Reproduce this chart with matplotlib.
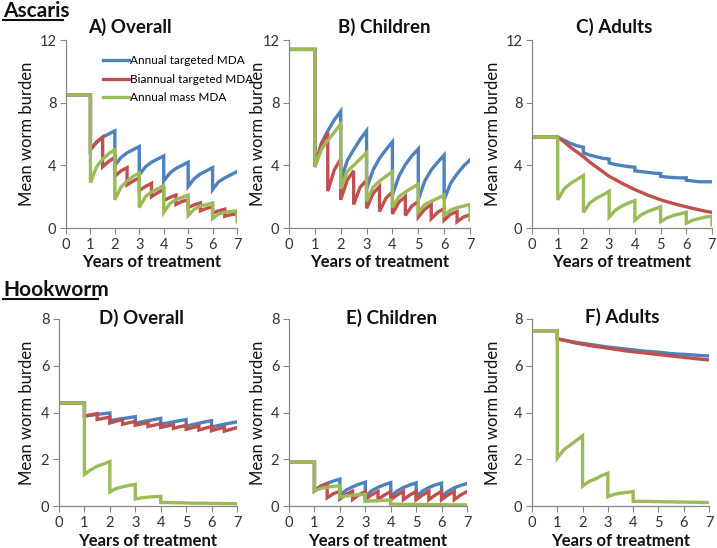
import matplotlib
matplotlib.use("Agg")
import matplotlib.pyplot as plt

plt.rcParams['font.family'] = ['Lato', 'DejaVu Sans']

# treatment starts at year 1; each segment lists values at quarter-year steps
years = [0, 1, 2, 3, 4, 5, 6, 7]
series_names = ["Annual targeted MDA", "Biannual targeted MDA", "Annual mass MDA"]
colors = ["#4F81BD", "#C0504D", "#9BBB59"]

# ---- Ascaris ----
a_pre = 8.5
a_annual = [[5.0, 5.45, 5.8, 6.0, 6.2], [4.0, 4.5, 4.8, 5.0, 5.2], [3.4, 3.9, 4.2, 4.4, 4.6],
            [3.0, 3.5, 3.8, 4.0, 4.2], [2.65, 3.15, 3.45, 3.65, 3.85], [2.45, 2.95, 3.2, 3.4, 3.6]]
a_biannual = [[5.0, 5.5, 5.8], [3.9, 4.25, 4.5], [3.3, 3.65, 3.85], [2.75, 3.0, 3.2],
              [2.4, 2.65, 2.85], [2.0, 2.25, 2.45], [1.75, 1.95, 2.1], [1.5, 1.7, 1.8],
              [1.3, 1.48, 1.6], [1.1, 1.25, 1.35], [0.95, 1.1, 1.2], [0.75, 0.85, 0.9]]
a_mass = [[2.9, 3.9, 4.4, 4.75, 5.0], [1.8, 2.6, 3.0, 3.3, 3.5], [1.3, 2.0, 2.3, 2.5, 2.7],
          [1.0, 1.55, 1.8, 1.95, 2.1], [0.8, 1.2, 1.4, 1.5, 1.6], [0.6, 0.9, 1.0, 1.05, 1.1]]
a_mass_end = 0.4

b_pre = 11.4
b_annual = [[3.9, 5.4, 6.2, 6.9, 7.45], [3.0, 4.3, 5.0, 5.65, 6.2], [2.5, 3.7, 4.45, 5.0, 5.5],
            [2.1, 3.3, 4.05, 4.6, 5.05], [1.8, 3.0, 3.7, 4.2, 4.65], [1.8, 2.85, 3.45, 3.95, 4.35]]
b_biannual = [[3.9, 5.3, 6.1], [2.35, 3.7, 4.4], [1.8, 3.05, 3.65], [1.5, 2.6, 3.05],
              [1.25, 2.2, 2.65], [1.05, 1.9, 2.3], [0.9, 1.65, 2.0], [0.8, 1.4, 1.7],
              [0.7, 1.2, 1.5], [0.6, 1.0, 1.25], [0.5, 0.88, 1.05], [0.4, 0.7, 0.85]]
b_mass = [[3.9, 5.0, 5.6, 6.1, 6.65], [2.5, 3.6, 4.0, 4.4, 4.8], [1.7, 2.6, 3.0, 3.3, 3.6],
          [1.3, 2.0, 2.3, 2.55, 2.8], [1.0, 1.5, 1.7, 1.9, 2.1], [0.8, 1.15, 1.3, 1.4, 1.5]]
b_mass_end = 0.5

c_pre = 5.8
c_annual = [[5.8, 5.6, 5.4, 5.25, 5.15], [4.8, 4.65, 4.55, 4.45, 4.4], [4.15, 4.05, 3.98, 3.92, 3.88],
            [3.65, 3.6, 3.55, 3.5, 3.48], [3.3, 3.25, 3.22, 3.2, 3.2], [3.05, 3.0, 2.95, 2.95, 2.95]]
c_biannual = [[5.8, 5.5, 5.15], [5.15, 4.85, 4.55], [4.55, 4.2, 3.9], [3.9, 3.6, 3.3],
              [3.3, 3.08, 2.85], [2.85, 2.65, 2.45], [2.45, 2.28, 2.1], [2.1, 1.95, 1.8],
              [1.8, 1.68, 1.56], [1.56, 1.45, 1.35], [1.35, 1.25, 1.16], [1.16, 1.07, 1.0]]
c_mass = [[1.8, 2.5, 2.85, 3.1, 3.35], [1.0, 1.6, 1.9, 2.1, 2.35], [0.7, 1.15, 1.4, 1.6, 1.75],
          [0.5, 0.85, 1.05, 1.2, 1.35], [0.4, 0.65, 0.8, 0.9, 1.0], [0.3, 0.5, 0.6, 0.7, 0.75]]
c_mass_end = 0.2

# ---- Hookworm ----
d_pre = 4.4
d_annual = [[3.85, 3.88, 3.92, 3.95, 3.98], [3.65, 3.7, 3.74, 3.78, 3.82], [3.55, 3.6, 3.65, 3.7, 3.75],
            [3.5, 3.55, 3.6, 3.65, 3.7], [3.42, 3.48, 3.54, 3.6, 3.65], [3.38, 3.44, 3.5, 3.55, 3.6]]
d_biannual = [[3.85, 3.9, 3.95], [3.7, 3.75, 3.8], [3.55, 3.63, 3.7], [3.5, 3.56, 3.62],
              [3.45, 3.51, 3.57], [3.4, 3.46, 3.52], [3.36, 3.42, 3.48], [3.32, 3.39, 3.45],
              [3.28, 3.35, 3.42], [3.25, 3.33, 3.4], [3.22, 3.3, 3.37], [3.2, 3.28, 3.35]]
d_mass = [[1.35, 1.55, 1.7, 1.8, 1.9], [0.6, 0.75, 0.82, 0.88, 0.93], [0.3, 0.35, 0.38, 0.4, 0.41],
          [0.15, 0.15, 0.14, 0.14, 0.13], [0.13, 0.12, 0.12, 0.12, 0.11], [0.11, 0.11, 0.1, 0.1, 0.1]]
d_mass_end = None

e_pre = 1.87
e_annual = [[0.65, 0.85, 0.97, 1.07, 1.15], [0.45, 0.68, 0.82, 0.93, 1.02], [0.42, 0.65, 0.8, 0.91, 1.0],
            [0.4, 0.64, 0.79, 0.9, 0.99], [0.4, 0.64, 0.79, 0.9, 0.98], [0.4, 0.63, 0.78, 0.88, 0.96]]
e_biannual = [[0.65, 0.85, 0.95], [0.35, 0.53, 0.63], [0.3, 0.5, 0.63], [0.28, 0.48, 0.62],
              [0.28, 0.48, 0.62], [0.27, 0.47, 0.62], [0.27, 0.47, 0.62], [0.27, 0.47, 0.62],
              [0.27, 0.47, 0.62], [0.27, 0.47, 0.62], [0.27, 0.47, 0.62], [0.27, 0.47, 0.62]]
e_mass = [[0.65, 0.75, 0.8, 0.84, 0.87], [0.38, 0.43, 0.46, 0.48, 0.5], [0.2, 0.22, 0.23, 0.24, 0.25],
          [0.08, 0.08, 0.07, 0.07, 0.07], [0.07, 0.06, 0.06, 0.06, 0.06], [0.06, 0.05, 0.05, 0.05, 0.05]]
e_mass_end = None

f_pre = 7.5
f_annual = [[7.15, 7.1, 7.05, 7.0, 6.96], [6.96, 6.92, 6.88, 6.84, 6.8], [6.8, 6.77, 6.74, 6.71, 6.68],
            [6.68, 6.65, 6.62, 6.6, 6.58], [6.58, 6.55, 6.52, 6.5, 6.49], [6.49, 6.47, 6.45, 6.43, 6.42]]
f_biannual = [[7.15, 7.09, 7.03], [7.03, 6.97, 6.92], [6.92, 6.87, 6.83], [6.83, 6.79, 6.75],
              [6.75, 6.71, 6.67], [6.67, 6.63, 6.6], [6.6, 6.57, 6.54], [6.54, 6.51, 6.48],
              [6.48, 6.45, 6.42], [6.42, 6.39, 6.36], [6.36, 6.33, 6.3], [6.3, 6.27, 6.25]]
f_mass = [[2.05, 2.4, 2.6, 2.8, 3.0], [0.85, 1.05, 1.15, 1.3, 1.4], [0.4, 0.5, 0.55, 0.58, 0.62],
          [0.2, 0.2, 0.2, 0.19, 0.19], [0.19, 0.18, 0.18, 0.17, 0.17], [0.17, 0.16, 0.16, 0.15, 0.15]]
f_mass_end = None


def build(pre, segs, seg_len, end=None):
    # pre-treatment flat line, then one piece per treatment interval
    xs, ys = [0, 1], [pre, pre]
    for i, seg in enumerate(segs):
        t0 = 1 + i * seg_len
        step = seg_len / (len(seg) - 1)
        for k, v in enumerate(seg):
            xs.append(t0 + k * step)
            ys.append(v)
    if end is not None:
        xs.append(7)
        ys.append(end)
    return xs, ys


W, H = 717, 548
fig = plt.figure(figsize=(W / 100, H / 100), dpi=100)

# title, axes box in px (left, top, right, bottom), ymax, ystep, data..., title pos, ylabel x, xlabel y
panels = [
    ("A) Overall", (66, 40, 237, 228), 12, 4, a_pre, a_annual, a_biannual, a_mass, a_mass_end, (130, 27), 27, 262),
    ("B) Children", (289, 40, 470, 228), 12, 4, b_pre, b_annual, b_biannual, b_mass, b_mass_end, (384, 27), 258, 262),
    ("C) Adults", (532, 40, 712, 228), 12, 4, c_pre, c_annual, c_biannual, c_mass, c_mass_end, (614, 27), 493, 262),
    ("D) Overall", (59, 319, 237, 506), 8, 2, d_pre, d_annual, d_biannual, d_mass, d_mass_end, (141, 318), 27, 541),
    ("E) Children", (289, 319, 467, 506), 8, 2, e_pre, e_annual, e_biannual, e_mass, e_mass_end, (392, 318), 258, 541),
    ("F) Adults", (532, 319, 709, 506), 8, 2, f_pre, f_annual, f_biannual, f_mass, f_mass_end, (622, 317), 493, 541),
]

grey = "#868686"
for idx, (title, box, ymax, ystep, pre, ann, bi, mass, mend, tpos, ylx, xly) in enumerate(panels):
    x0, y0, x1, y1 = box
    ax = fig.add_axes([x0 / W, 1 - y1 / H, (x1 - x0) / W, (y1 - y0) / H])
    lines = []
    for segs, seg_len, end, col in [(ann, 1.0, None, colors[0]), (bi, 0.5, None, colors[1]),
                                     (mass, 1.0, mend, colors[2])]:
        xs, ys = build(pre, segs, seg_len, end)
        ln, = ax.plot(xs, ys, color=col, lw=2.4, solid_joinstyle='miter')
        lines.append(ln)
    ax.set_xlim(0, 7)
    ax.set_ylim(0, ymax)
    ax.set_xticks(years)
    ax.set_yticks(list(range(0, ymax + 1, ystep)))
    for s in ["top", "right"]:
        ax.spines[s].set_visible(False)
    for s in ["left", "bottom"]:
        ax.spines[s].set_color(grey)
        ax.spines[s].set_linewidth(0.9)
    ax.tick_params(colors=grey, labelcolor="#333333", labelsize=10.5, length=4, direction="out", pad=3)
    ax.set_xlabel("Years of treatment", fontsize=12, fontweight="bold", color="#111111")
    ax.set_ylabel("Mean worm burden", fontsize=12, color="#111111")
    ax.yaxis.set_label_coords((ylx - x0) / (x1 - x0), 0.5)
    ax.xaxis.set_label_coords(0.5, -(xly - y1) / (y1 - y0))
    ax.xaxis.label.set_va("center")
    ax.yaxis.label.set_va("center")
    fig.text(tpos[0] / W, 1 - tpos[1] / H, title, fontsize=13.5, fontweight="bold",
             ha="center", va="center", color="#111111")
    if idx == 0:
        ax.legend(lines, series_names, loc="upper left", bbox_to_anchor=((103 - x0) / (x1 - x0), 0.92),
                  frameon=False, fontsize=8.5, handlelength=2.2, handletextpad=0.1,
                  labelspacing=0.65, borderpad=0, borderaxespad=0)

# section headings, underlined
for label, ty, ux in [("Ascaris", 17, 63), ("Hookworm", 296, 98)]:
    fig.text(3 / W, 1 - ty / H, label, fontsize=15, fontweight="bold", ha="left", va="baseline",
             color="#111111")
    fig.add_artist(plt.Line2D([3 / W, ux / W], [1 - (ty + 3) / H, 1 - (ty + 3) / H],
                              color="#111111", lw=1.5))

fig.savefig("out.png", dpi=100)
